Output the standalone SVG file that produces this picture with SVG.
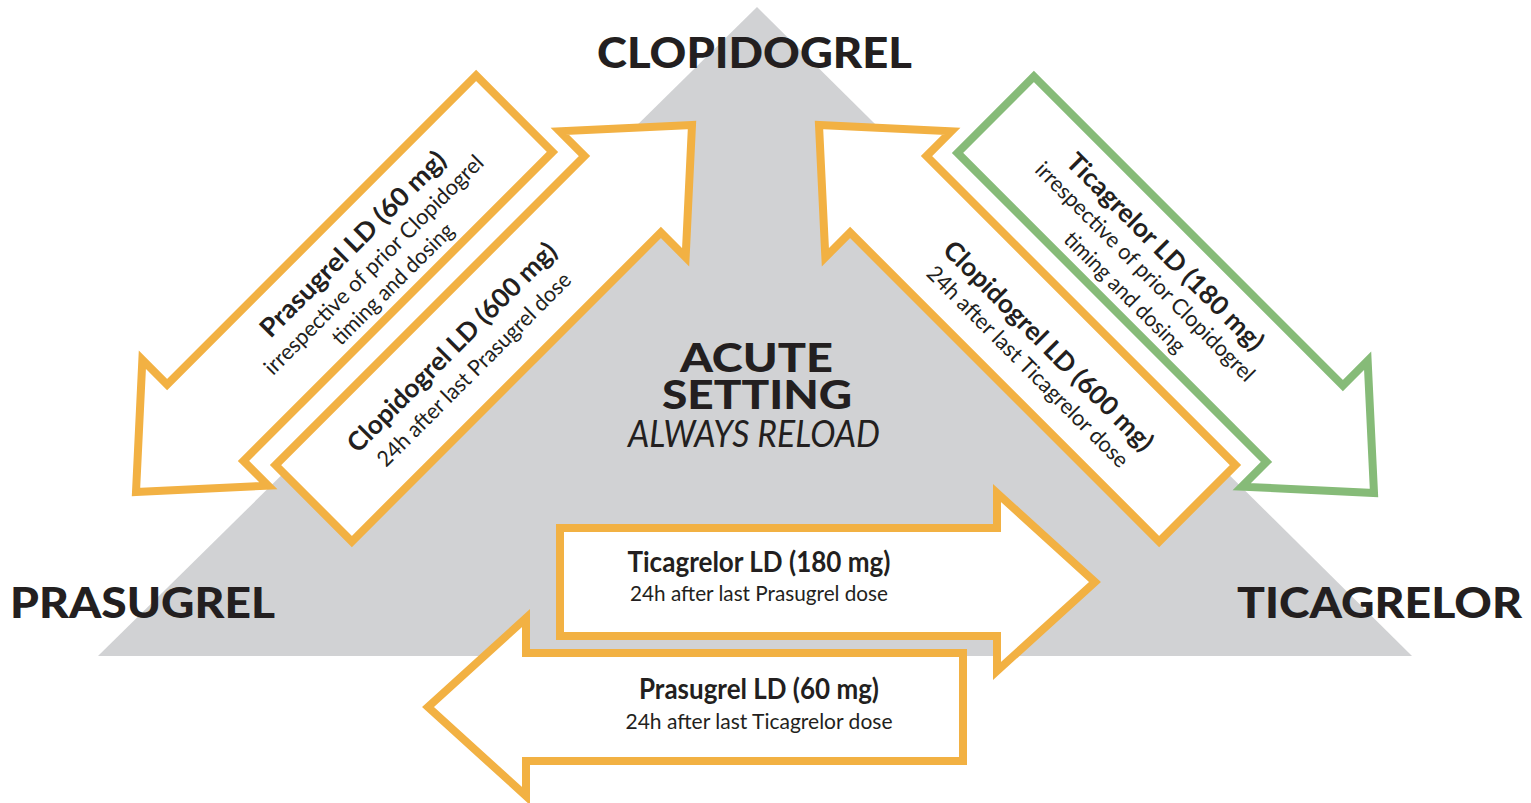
<svg xmlns="http://www.w3.org/2000/svg" width="1531" height="803" viewBox="0 0 1531 803">
<style>
.bg{fill:#ffffff}
.tri{fill:#d1d2d4}
.arr{fill:#ffffff;stroke:#f2b143;stroke-width:8;stroke-linejoin:miter;stroke-miterlimit:10}
.arr.g{stroke:#86bb78}
.hdr{font-family:Lato,"Open Sans",sans-serif;font-weight:900;fill:#231f20;font-size:42px}
.b{font-family:Lato,"Open Sans",sans-serif;font-weight:700;fill:#231f20;font-size:26px;text-anchor:middle}
.r{font-family:Lato,"Open Sans",sans-serif;font-weight:400;fill:#231f20;font-size:22px;text-anchor:middle}
.hb{font-family:Lato,"Open Sans",sans-serif;font-weight:700;fill:#231f20;font-size:29px;text-anchor:middle}
.hr{font-family:Lato,"Open Sans",sans-serif;font-weight:400;fill:#231f20;font-size:21px;text-anchor:middle}
</style>
<defs>
<polygon id="arrowShape" points="0,0 -98,-89 -98,-54 -535,-54 -535,54 -98,54 -98,89"/>
</defs>
<rect class="bg" x="0" y="0" width="1531" height="803"/>
<g id="triangle">
<polygon class="tri" points="757,7 1412,656 98,656"/>
</g>
<g id="labels">
<text class="hdr" x="597" y="68" textLength="315" lengthAdjust="spacingAndGlyphs">CLOPIDOGREL</text>
<text class="hdr" x="10" y="618" textLength="265" lengthAdjust="spacingAndGlyphs">PRASUGREL</text>
<text class="hdr" x="1237" y="618" textLength="285" lengthAdjust="spacingAndGlyphs">TICAGRELOR</text>
</g>
<g id="center">
<text fill="#231f20" font-family="Lato,'Open Sans',sans-serif"><tspan x="680" y="372" font-weight="900" font-size="39" textLength="153" lengthAdjust="spacingAndGlyphs">ACUTE</tspan><tspan x="662" y="409" font-weight="900" font-size="39" textLength="190" lengthAdjust="spacingAndGlyphs">SETTING</tspan><tspan x="628" y="447" font-style="italic" font-weight="400" font-size="36" textLength="252" lengthAdjust="spacingAndGlyphs">ALWAYS RELOAD</tspan></text>
</g>
<g id="connectors">
<g id="arrow-pras-from-clop">
<use href="#arrowShape" class="arr" transform="translate(136,492) rotate(135)"/>
<g transform="translate(372.6,263.8) rotate(-45)">
<text class="b" x="0" y="-19" textLength="251" lengthAdjust="spacingAndGlyphs">Prasugrel LD (60 mg)</text>
<text class="r" x="0" y="9" textLength="300" lengthAdjust="spacingAndGlyphs">irrespective of prior Clopidogrel</text>
<text class="r" x="0" y="36" textLength="162" lengthAdjust="spacingAndGlyphs">timing and dosing</text>
</g>
</g>
<g id="arrow-clop-from-pras">
<use href="#arrowShape" class="arr" transform="translate(692,125) rotate(-45)"/>
<g transform="translate(462.4,357.8) rotate(-45)">
<text class="b" x="0" y="-6" textLength="284" lengthAdjust="spacingAndGlyphs">Clopidogrel LD (600 mg)</text>
<text class="r" x="0" y="24" textLength="264" lengthAdjust="spacingAndGlyphs">24h after last Prasugrel dose</text>
</g>
</g>
<g id="arrow-clop-from-tica">
<use href="#arrowShape" class="arr" transform="translate(819,125) rotate(-135)"/>
<g transform="translate(1038,356.4) rotate(45)">
<text class="b" x="0" y="-6" textLength="285" lengthAdjust="spacingAndGlyphs">Clopidogrel LD (600 mg)</text>
<text class="r" x="0" y="22" textLength="275" lengthAdjust="spacingAndGlyphs">24h after last Ticagrelor dose</text>
</g>
</g>
<g id="arrow-tica-from-clop">
<use href="#arrowShape" class="arr g" transform="translate(1374,493) rotate(45)"/>
<g transform="translate(1144.8,272.2) rotate(45)">
<text class="b" x="0" y="-20" textLength="267" lengthAdjust="spacingAndGlyphs">Ticagrelor LD (180 mg)</text>
<text class="r" x="0" y="7" textLength="300" lengthAdjust="spacingAndGlyphs">irrespective of prior Clopidogrel</text>
<text class="r" x="0" y="36" textLength="161" lengthAdjust="spacingAndGlyphs">timing and dosing</text>
</g>
</g>
<g id="arrow-tica-from-pras">
<use href="#arrowShape" class="arr" transform="translate(1095,582)"/>
<text class="hb" x="759" y="572" textLength="263" lengthAdjust="spacingAndGlyphs">Ticagrelor LD (180 mg)</text>
<text class="hr" x="759" y="601" textLength="258" lengthAdjust="spacingAndGlyphs">24h after last Prasugrel dose</text>
</g>
<g id="arrow-pras-from-tica">
<use href="#arrowShape" class="arr" transform="translate(428,707) rotate(180)"/>
<text class="hb" x="759" y="699" textLength="240" lengthAdjust="spacingAndGlyphs">Prasugrel LD (60 mg)</text>
<text class="hr" x="759" y="729" textLength="267" lengthAdjust="spacingAndGlyphs">24h after last Ticagrelor dose</text>
</g>
</g>
</svg>
